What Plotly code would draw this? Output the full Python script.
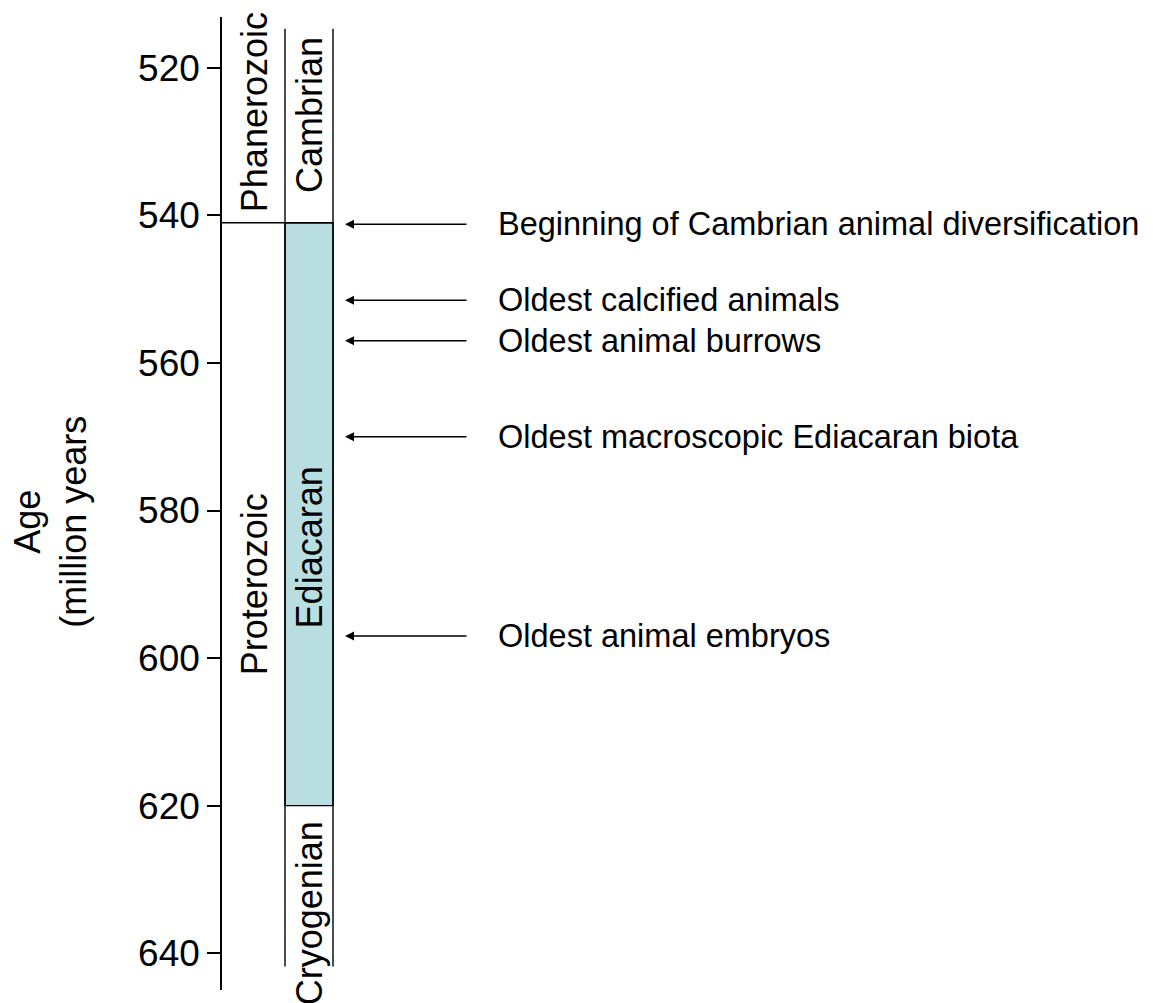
import plotly.graph_objects as go

# ---- data ----
tick_ages = [520, 540, 560, 580, 600, 620, 640]
boundary_cambrian = 541
boundary_cryogenian = 620
column_top_age = 514.7
column_bottom_age = 641.8

era_names = ["Phanerozoic", "Proterozoic"]
era_label_ages = [526, 590]
period_names = ["Cambrian", "Ediacaran", "Cryogenian"]
period_label_ages = [526.4, 585, 634.6]

event_ages = [541.2, 551.5, 557.0, 570.0, 597.0]
event_labels = [
    "Beginning of Cambrian animal diversification",
    "Oldest calcified animals",
    "Oldest animal burrows",
    "Oldest macroscopic Ediacaran biota",
    "Oldest animal embryos",
]

FONT = "Arial, Liberation Sans, sans-serif"
# horizontal layout positions (x axis is in layout units)
X_AXIS = 222
X_MID = 285
X_RIGHT = 333
X_ERA = 254
X_PER = 309
X_ARROW_TIP = 345
X_ARROW_TAIL = 468
X_TEXT = 496

fig = go.Figure()
fig.add_trace(go.Scatter(x=[X_AXIS], y=[580], mode="markers",
                         marker=dict(opacity=0), hoverinfo="skip", showlegend=False))

shapes = []
shapes.append(dict(type="rect", xref="x", yref="y", x0=X_MID, x1=X_RIGHT,
                   y0=boundary_cambrian, y1=boundary_cryogenian,
                   fillcolor="#b9dee2", line=dict(color="black", width=1.4), layer="below"))
for xx in (X_MID, X_RIGHT):
    shapes.append(dict(type="line", xref="x", yref="y", x0=xx, x1=xx,
                       y0=column_top_age, y1=column_bottom_age,
                       line=dict(color="black", width=1.4)))
shapes.append(dict(type="line", xref="x", yref="y", x0=X_AXIS, x1=X_RIGHT,
                   y0=boundary_cambrian, y1=boundary_cambrian,
                   line=dict(color="black", width=1.4)))

annotations = []
for name, a in zip(era_names, era_label_ages):
    annotations.append(dict(x=X_ERA, y=a, xref="x", yref="y", text=name, showarrow=False,
                            textangle=-90, font=dict(size=36, color="black", family=FONT)))
for name, a in zip(period_names, period_label_ages):
    annotations.append(dict(x=X_PER, y=a, xref="x", yref="y", text=name, showarrow=False,
                            textangle=-90, font=dict(size=36, color="black", family=FONT)))
for a, lab in zip(event_ages, event_labels):
    annotations.append(dict(x=X_ARROW_TIP, y=a, xref="x", yref="y", ax=X_ARROW_TAIL, ay=a,
                            axref="x", ayref="y", text="", showarrow=True,
                            arrowhead=2, arrowsize=1.2, arrowwidth=1.5, arrowcolor="black"))
    annotations.append(dict(x=X_TEXT, y=a, xref="x", yref="y", text=lab, showarrow=False,
                            xanchor="left", font=dict(size=32.5, color="black", family=FONT)))
# axis title (paper coords, left of the plot area)
annotations.append(dict(x=-0.183, y=581.5, xref="paper", yref="y",
                        text="Age<br>(million years", showarrow=False, textangle=-90,
                        xanchor="center", yanchor="middle",
                        font=dict(size=36, color="black", family=FONT)))

fig.update_layout(
    width=1153, height=1003,
    margin=dict(l=214, r=0, t=9, b=21),
    paper_bgcolor="white", plot_bgcolor="white",
    shapes=shapes, annotations=annotations, showlegend=False,
    xaxis=dict(range=[222, 1161], visible=False, fixedrange=True),
    yaxis=dict(range=[645.0, 513.1], tickvals=tick_ages, ticks="outside", ticklen=13,
               tickwidth=1.5, tickcolor="black", showline=True, linecolor="black",
               linewidth=1.5, showgrid=False, zeroline=False, ticklabelstandoff=0,
               tickfont=dict(size=37, color="black", family=FONT)),
)

fig.write_html("out.html")
